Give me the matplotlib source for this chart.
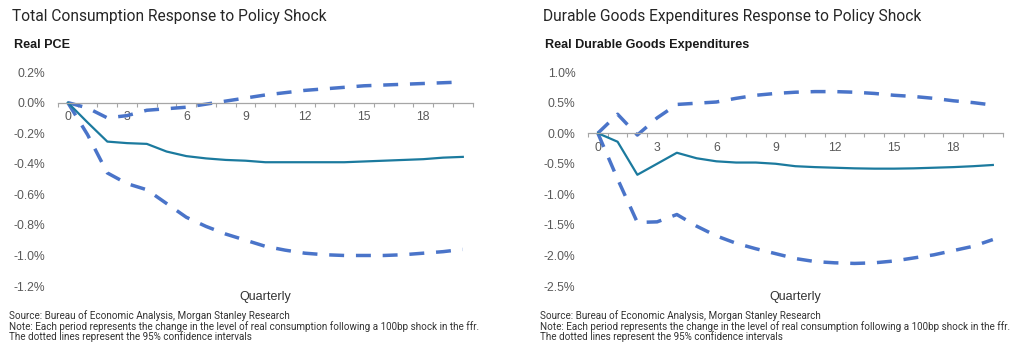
import numpy as np
import matplotlib
matplotlib.use("Agg")
import matplotlib.pyplot as plt
from matplotlib.ticker import FixedLocator, FuncFormatter

# quarters after the shock
QUARTERS = list(range(21))

# Real PCE response (%)
PCE_MID = [0.0, -0.13, -0.255, -0.265, -0.27, -0.32, -0.35, -0.365, -0.375, -0.38,
           -0.39, -0.39, -0.39, -0.39, -0.39, -0.385, -0.38, -0.375, -0.37, -0.36, -0.355]
PCE_UPPER = [0.0, -0.035, -0.1, -0.085, -0.05, -0.04, -0.03, -0.01, 0.01, 0.03,
             0.05, 0.065, 0.08, 0.09, 0.1, 0.11, 0.115, 0.12, 0.125, 0.13, 0.135]
PCE_LOWER = [0.0, -0.21, -0.46, -0.53, -0.57, -0.66, -0.75, -0.81, -0.86, -0.9,
             -0.94, -0.965, -0.985, -0.995, -1.0, -1.0, -1.0, -0.995, -0.985, -0.975, -0.96]

# Real durable goods expenditures response (%)
DUR_MID = [0.0, -0.14, -0.68, -0.5, -0.32, -0.41, -0.46, -0.48, -0.48, -0.5,
           -0.54, -0.555, -0.565, -0.575, -0.58, -0.58, -0.575, -0.565, -0.555, -0.54, -0.52]
DUR_UPPER = [0.0, 0.31, -0.03, 0.25, 0.47, 0.49, 0.51, 0.57, 0.62, 0.65,
             0.67, 0.68, 0.68, 0.67, 0.65, 0.62, 0.6, 0.57, 0.53, 0.5, 0.46]
DUR_LOWER = [0.0, -0.75, -1.46, -1.45, -1.33, -1.52, -1.68, -1.8, -1.89, -1.97,
             -2.05, -2.1, -2.12, -2.13, -2.12, -2.09, -2.04, -1.99, -1.92, -1.85, -1.74]

PCE_YTICKS = [0.2, 0.0, -0.2, -0.4, -0.6, -0.8, -1.0, -1.2]
DUR_YTICKS = [1.0, 0.5, 0.0, -0.5, -1.0, -1.5, -2.0, -2.5]
XTICKS = [0, 3, 6, 9, 12, 15, 18]

TITLES = ["Total Consumption Response to Policy Shock",
          "Durable Goods Expenditures Response to Policy Shock"]
SUBTITLES = ["Real PCE", "Real Durable Goods Expenditures"]
NOTE_LINES = [
    "Source: Bureau of Economic Analysis, Morgan Stanley Research",
    "Note: Each period represents the change in the level of real consumption "
    "following a 100bp shock in the ffr.",
    "The dotted lines represent the 95% confidence intervals",
]

SOLID = "#1b7a9e"
DASH = "#4a74c9"
TICK_COLOR = "#595959"

fig = plt.figure(figsize=(10.24, 3.48), dpi=100)

panels = [
    (0.0566, PCE_MID, PCE_UPPER, PCE_LOWER, PCE_YTICKS),
    (0.5742, DUR_MID, DUR_UPPER, DUR_LOWER, DUR_YTICKS),
]

for i, (left, mid, up, lo, yticks) in enumerate(panels):
    ax = fig.add_axes([left, 0.178, 0.405, 0.615])
    ax.plot(QUARTERS, up, color=DASH, lw=2.5, dashes=(4.3, 3.4))
    ax.plot(QUARTERS, lo, color=DASH, lw=2.5, dashes=(4.3, 3.4))
    ax.plot(QUARTERS, mid, color=SOLID, lw=1.6)

    ax.set_xlim(-0.5, 20.5)
    ax.set_ylim(min(yticks), max(yticks))
    for s in ["top", "right", "left"]:
        ax.spines[s].set_visible(False)
    ax.spines["bottom"].set_position(("data", 0))
    ax.spines["bottom"].set_color("#a6a6a6")
    ax.spines["bottom"].set_linewidth(0.9)

    ax.xaxis.set_major_locator(FixedLocator(XTICKS))
    ax.xaxis.set_minor_locator(FixedLocator(np.arange(-0.5, 21, 1.0)))
    ax.tick_params(axis="x", which="major", length=0, pad=6, labelsize=8.7,
                   labelcolor=TICK_COLOR)
    ax.tick_params(axis="x", which="minor", length=3, width=0.8, color="#a6a6a6",
                   direction="out")
    for lab in ax.get_xticklabels():
        lab.set_family("Liberation Sans")

    ax.set_yticks(yticks)
    ax.yaxis.set_major_formatter(FuncFormatter(lambda v, p: "{:.1f}%".format(v)))
    ax.tick_params(axis="y", length=0, pad=9, labelsize=8.7, labelcolor=TICK_COLOR)
    for lab in ax.get_yticklabels():
        lab.set_family("Liberation Sans")

    ax.text(0.5, -0.025, "Quarterly", transform=ax.transAxes, ha="center", va="top",
            fontsize=9, color="#333333", family="Liberation Sans")

    x0 = 12 / 1024 if i == 0 else 543 / 1024
    fig.text(x0, 1 - 17 / 348, TITLES[i], ha="left", va="center", fontsize=11.2,
             color="#262626", family="Roboto")
    fig.text(x0 + 2 / 1024, 1 - 45 / 348, SUBTITLES[i], ha="left", va="center",
             fontsize=9.1, fontweight="bold", color="#1a1a1a", family="Liberation Sans")
    for k, line in enumerate(NOTE_LINES):
        fig.text(x0 - 3 / 1024, 1 - (316 + 10.5 * k) / 348, line, ha="left",
                 va="center", fontsize=7.1, color="#333333", family="Roboto")

fig.savefig("out.png", dpi=100)
